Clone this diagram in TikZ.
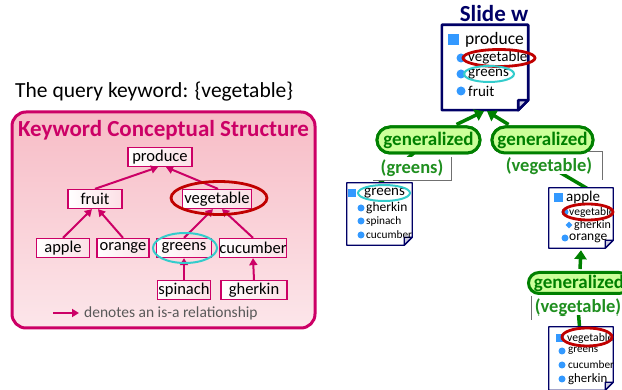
\documentclass[tikz,border=0pt]{standalone}
\usepackage{fontspec}
\setmainfont{Carlito}
\usetikzlibrary{arrows.meta,shapes.geometric,shapes.misc,calc}
\begin{document}
\definecolor{mag}{HTML}{CC0066}
\definecolor{pinktop}{HTML}{F7BCC6}
\definecolor{pinkbot}{HTML}{FCE6EA}
\definecolor{boxpink}{HTML}{FCE0E6}
\definecolor{ringred}{HTML}{C00000}
\definecolor{ringcyan}{HTML}{33CCCC}
\definecolor{navyc}{HTML}{000066}
\definecolor{bulletblue}{HTML}{3399FF}
\definecolor{gdark}{HTML}{008000}
\definecolor{gtext}{HTML}{1F8F1F}
\definecolor{gfill}{HTML}{CCFF99}
\definecolor{legendgray}{HTML}{595959}
\definecolor{framegray}{HTML}{707070}

\newcommand\setfs[1]{\fontsize{#1}{#1}\selectfont}

% document outline with a folded bottom-right corner
\newcommand\DocOutline[3]{%
  \draw[navyc, line width=#2, fill=white, line join=round]
    (#1.north west) -- (#1.north east) -- ($(#1.south east)+(0,-#3)$)
    -- ($(#1.south east)+(-#3,0)$) -- (#1.south west) -- cycle;
  \draw[navyc, line width=#2, fill=white!80!navyc, line join=round]
    ($(#1.south east)+(0,-#3)$) -- ($(#1.south east)+(-#3,-#3)$)
    -- ($(#1.south east)+(-#3,0)$) -- cycle;
}

\begin{tikzpicture}[x=1pt,y=-1pt,
  kbox/.style={draw=mag, line width=1.3pt, left color=white, right color=boxpink,
    inner sep=0pt, minimum height=19pt, font=\setfs{16.5}},
  isa/.style={draw=mag, line width=2pt, -{Triangle[length=7pt,width=8pt]}},
  redring/.style={ellipse, draw=ringred, line width=2.8pt, inner sep=0pt},
  cyanring/.style={ellipse, draw=ringcyan, line width=2pt, inner sep=0pt},
  pill/.style={rounded rectangle, draw=gdark, line width=3pt, fill=gfill,
    text=gdark, inner sep=0pt, font=\bfseries\setfs{19}},
  sublabel/.style={fill=white, inner sep=0pt, text=gtext, font=\bfseries\setfs{18.5}},
  docbox/.style={rectangle, inner sep=0pt, draw=none},
  gline/.style={draw=gdark, line width=3.5pt},
  garrow/.style={draw=gdark, line width=3.5pt, -{Triangle[length=9pt,width=12pt]}},
  dtext/.style={anchor=west, inner sep=0pt},
  sq/.style={fill=bulletblue, inner sep=0pt, minimum size=#1},
  dot/.style={circle, fill=bulletblue, inner sep=0pt, minimum size=#1},
]
\useasboundingbox (0,0) rectangle (622,390);

% ---------- keyword conceptual structure ----------
\node[anchor=west, inner sep=0pt, font=\setfs{21.5}] (query) at (15,92) {The query keyword: \{vegetable\}};

\node[draw=mag, line width=3pt, rounded corners=14pt, top color=pinktop, bottom color=pinkbot,
  minimum width=303pt, minimum height=216pt, inner sep=0pt] (kcs) at (163.5,220) {};
\node[text=mag, font=\bfseries\setfs{23}, inner sep=0pt] (kcstitle) at (163.5,130) {Keyword Conceptual Structure};

\node[kbox, minimum width=64pt] (produce)  at (160,157) {produce};
\node[kbox, minimum width=54pt] (fruit)    at (95,199)  {fruit};
\node[kbox, minimum width=69pt] (vegetable) at (217,199) {vegetable};
\node[kbox, minimum width=53pt] (apple)    at (63,248)  {apple};
\node[kbox, minimum width=52pt] (orange)   at (123,248) {orange};
\node[kbox, minimum width=55pt] (greens)   at (184,248) {greens};
\node[kbox, minimum width=65pt] (cucumber) at (253,248) {cucumber};
\node[kbox, minimum width=53pt] (spinach)  at (184,290) {spinach};
\node[kbox, minimum width=66pt] (gherkin)  at (254,290) {gherkin};

\draw[isa] (fruit.north) -- ($(produce.south)+(-2,0)$);
\draw[isa] ($(vegetable.north)+(1,0)$) -- ($(produce.south)+(6,0)$);
\draw[isa] (apple.north) -- ($(fruit.south)+(-3,0)$);
\draw[isa] (orange.north) -- ($(fruit.south)+(3,0)$);
\draw[isa] (greens.north) -- ($(vegetable.south)+(-4,0)$);
\draw[isa] (cucumber.north) -- ($(vegetable.south)+(5,0)$);
\draw[isa] (spinach.north) -- (greens.south);
\draw[isa] (gherkin.north) -- (cucumber.south);

\node[redring, minimum width=96pt, minimum height=33pt] (vegring) at (219,198) {};
\node[cyanring, minimum width=64pt, minimum height=30pt] (grnring) at (185,248) {};

\coordinate (lgA) at (53,313);
\coordinate (lgB) at (79,313);
\draw[isa] (lgA) -- (lgB);
\node[dtext, text=legendgray, font=\setfs{15.5}] (lgtext) at (84,313) {denotes an is-a relationship};

% ---------- slides ----------
\node[text=navyc, font=\bfseries\setfs{23}, inner sep=0pt] (slidetitle) at (494,14) {Slide w};

% links from the source slides to the generalisation labels (mostly hidden)
\node[pill, minimum width=103pt, minimum height=26pt] (gA) at (428.5,140) {generalized};
\node[pill, minimum width=101pt, minimum height=26pt] (gB) at (542.5,140) {generalized};
\coordinate (gdocin) at (365,196);
\coordinate (adocin) at (600,196);
\coordinate (vdocin) at (581,345);
\draw[gline] (gA.center) -- (gdocin);

\node[sublabel, minimum width=78pt, minimum height=23pt] (gAl) at (412,168.5) {(greens)};
\node[sublabel, minimum width=106pt, minimum height=28pt] (gBl) at (549,166) {(vegetable)};
\node[sublabel, minimum width=92pt, minimum height=24pt] (gCl) at (578,308) {(vegetable)};
\draw[gline] (gBl.center) -- (adocin);
\draw[gline] (gCl.center) -- (vdocin);
\node[sublabel] (gBltext) at (549,166) {(vegetable)};
\node[sublabel] (gCltext) at (578,307) {(vegetable)};

\draw[framegray, line width=0.7pt] (gAl.north east) -- (gAl.south east) -- (gAl.south west);
\draw[framegray, line width=0.7pt] (gBl.north west) -- (gBl.north east) -- (gBl.south east);
\draw[framegray, line width=0.7pt] (gCl.north west) -- (gCl.south west);

% pills drawn again on top of the label frames
\node[pill, minimum width=103pt, minimum height=26pt] at (gA) {generalized};
\node[pill, minimum width=101pt, minimum height=26pt] at (gB) {generalized};
\node[pill, minimum width=101pt, minimum height=21pt] (gC) at (579,283) {generalized};

% slide w
\node[docbox, minimum width=86pt, minimum height=85pt] (slidew) at (485,67.5) {};
\DocOutline{slidew}{2.6pt}{10}
\node[sq=11pt] (swsq) at (453,40) {};
\node[dtext, font=\setfs{17.5}] (swp) at (465,40) {produce};
\node[dot=9pt] (swd1) at (461,58) {};
\node[dot=9pt] (swd2) at (461,74) {};
\node[dot=9pt] (swd3) at (461,91) {};
\node[dtext, font=\setfs{15}] (swveg) at (468,58) {vegetable};
\node[dtext, font=\setfs{15}] (swgrn) at (468,74) {greens};
\node[dtext, font=\setfs{15}] (swfru) at (468,91) {fruit};
\node[redring, minimum width=72pt, minimum height=17pt] (swvring) at (499,58) {};
\node[cyanring, minimum width=50pt, minimum height=16pt] (swgring) at (489,74) {};

% greens slide
\node[docbox, minimum width=65pt, minimum height=62pt] (gdoc) at (379.5,214) {};
\DocOutline{gdoc}{1.3pt}{8}
\node[sq=8pt] (gdsq) at (352,193) {};
\node[dtext, font=\setfs{15}] (gdt0) at (364,193) {greens};
\node[dot=7pt] (gdd1) at (361,208) {};
\node[dot=7pt] (gdd2) at (361,221) {};
\node[dot=7pt] (gdd3) at (361,235) {};
\node[dtext, font=\setfs{13.5}] (gdt1) at (366,208) {gherkin};
\node[dtext, font=\setfs{11.3}] (gdt2) at (366,221) {spinach};
\node[dtext, font=\setfs{11.3}] (gdt3) at (366,235) {cucumber};
\node[cyanring, minimum width=52pt, minimum height=16pt] (gdring) at (384,193) {};

% apple slide
\node[docbox, minimum width=64pt, minimum height=60pt] (adoc) at (581,218) {};
\DocOutline{adoc}{1.3pt}{8}
\node[sq=9pt] (adsq) at (558,198) {};
\node[dtext, font=\setfs{15}] (adt0) at (566,198) {apple};
\node[dot=7pt] (add1) at (565,212) {};
\node[diamond, fill=bulletblue, inner sep=0pt, minimum size=7pt] (add2) at (569,225) {};
\node[dot=7pt] (add3) at (565,238) {};
\node[dtext, font=\setfs{11.5}] (adt1) at (569,212) {vegetable};
\node[dtext, font=\setfs{12}] (adt2) at (574,225) {gherkin};
\node[dtext, font=\setfs{13.5}] (adt3) at (569,238) {orange};
\node[redring, minimum width=50pt, minimum height=16pt] (adring) at (588,212) {};

% vegetable slide
\node[docbox, minimum width=64pt, minimum height=63pt] (vdoc) at (581,358.5) {};
\DocOutline{vdoc}{1.3pt}{8}
\node[sq=8pt] (vdsq) at (560,338) {};
\node[dtext, font=\setfs{11.7}] (vdt0) at (567,338) {vegetable};
\node[dot=7pt] (vdd1) at (562,351) {};
\node[dot=7pt] (vdd2) at (562,365) {};
\node[dot=7pt] (vdd3) at (562,379) {};
\node[dtext, font=\setfs{11}] (vdt1) at (568,351) {greens};
\node[dtext, font=\setfs{11.3}] (vdt2) at (568,365) {cucumber};
\node[dtext, font=\setfs{12.8}] (vdt3) at (568,379) {gherkin};
\node[redring, minimum width=50pt, minimum height=18pt] (vdring) at (587,337) {};

% generalisation arrows
\draw[garrow] ($(gA.north)+(28,-1)$) -- ($(slidew.south)+(-1,1)$);
\draw[garrow] ($(gB.north)+(-34,-1)$) -- ($(slidew.south)+(2,1)$);
\draw[garrow] ($(gC.north)+(1,-2)$) -- ($(adoc.south)+(0,2)$);
\end{tikzpicture}
\end{document}
